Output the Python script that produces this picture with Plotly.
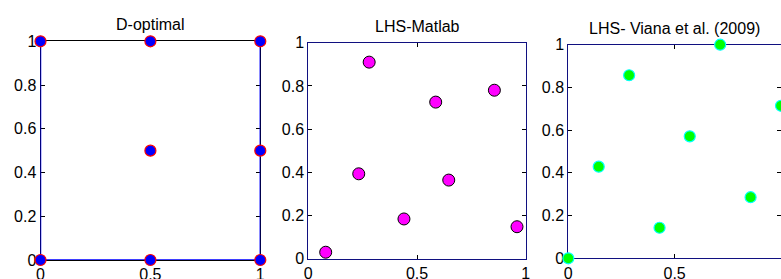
import plotly.graph_objects as go

# ---- data ----
titles = ["D-optimal", "LHS-Matlab", "LHS- Viana et al. (2009)"]

dopt_x = [0, 0.5, 1, 0, 0.5, 1, 0.5, 1]
dopt_y = [0, 0, 0, 1, 1, 1, 0.5, 0.5]
# order in which the blue line passes through the D-optimal points
dopt_path = [3, 0, 1, 2, 7, 5]

lhs_x = [0.08, 0.28, 0.232, 0.44, 0.586, 0.646, 0.856, 0.96]
lhs_y = [0.03, 0.91, 0.393, 0.184, 0.725, 0.364, 0.78, 0.148]

viana_x = [0, 0.143, 0.286, 0.429, 0.571, 0.714, 0.857, 1]
viana_y = [0, 0.429, 0.857, 0.143, 0.571, 1, 0.286, 0.714]

x_ticks = [0, 0.5, 1]
x_tick_text = ["0", "0.5", "1"]
y_ticks = [0, 0.2, 0.4, 0.6, 0.8, 1]
y_tick_text = ["0", "0.2", "0.4", "0.6", "0.8", "1"]

# ---- layout geometry (pixels) ----
W, H = 781, 279
panels = [  # left, right, top, bottom
    (40.5, 260.3, 41.3, 260.0),
    (308.3, 525.7, 42.7, 258.7),
    (568.3, 781.0, 44.7, 258.3),
]
frame_colors = ["#000000", "#101080", "#101080"]

FONT = "Liberation Sans, Arial, sans-serif"

fig = go.Figure()

# panel 1
fig.add_trace(go.Scatter(
    x=[dopt_x[i] for i in dopt_path], y=[dopt_y[i] for i in dopt_path],
    mode="lines", line=dict(color="#0000ff", width=1.5),
    xaxis="x", yaxis="y", cliponaxis=False, hoverinfo="skip"))
fig.add_trace(go.Scatter(
    x=dopt_x, y=dopt_y, mode="markers",
    marker=dict(size=11, color="#0000ff", line=dict(color="#ff0000", width=1.2)),
    xaxis="x", yaxis="y", cliponaxis=False))

# panel 2
fig.add_trace(go.Scatter(
    x=lhs_x, y=lhs_y, mode="markers",
    marker=dict(size=12, color="#ff00ff", line=dict(color="#000000", width=1)),
    xaxis="x2", yaxis="y2", cliponaxis=False))

# panel 3
fig.add_trace(go.Scatter(
    x=viana_x, y=viana_y, mode="markers",
    marker=dict(size=11, color="#00ff00", line=dict(color="#00ffff", width=1.2)),
    xaxis="x3", yaxis="y3", cliponaxis=False))

layout = dict(
    width=W, height=H,
    margin=dict(l=0, r=0, t=0, b=0, autoexpand=False),
    paper_bgcolor="white", plot_bgcolor="white",
    showlegend=False,
    font=dict(family=FONT, color="#000000", size=16),
    annotations=[],
)

for i, (l, r, t, b) in enumerate(panels):
    sfx = "" if i == 0 else str(i + 1)
    xd = [l / W, r / W]
    yd = [(H - b) / H, (H - t) / H]
    common = dict(
        showgrid=False, zeroline=False, automargin=False,
        showline=True, linecolor=frame_colors[i], linewidth=1,
        mirror="allticks", ticks="inside", ticklen=4, tickcolor="#000000",
        tickfont=dict(family=FONT, size=16, color="#000000"),
        layer="below traces", fixedrange=True,
    )
    layout["xaxis" + sfx] = dict(
        domain=xd, range=[0, 1], tickvals=x_ticks, ticktext=x_tick_text,
        anchor="y" + sfx, **common)
    layout["yaxis" + sfx] = dict(
        domain=yd, range=[0, 1], tickvals=y_ticks, ticktext=y_tick_text,
        anchor="x" + sfx, **common)
    layout["annotations"].append(dict(
        text=titles[i], xref="paper", yref="paper",
        x=(l + r) / 2 / W if i < 2 else (l + 780.3) / 2 / W,
        y=(H - t) / H, yshift=6,
        xanchor="center", yanchor="bottom", showarrow=False,
        font=dict(family=FONT, size=16, color="#000000")))

fig.update_layout(**layout)
fig.write_html(
    "out.html",
    config={"displayModeBar": False, "staticPlot": True},
    post_script="document.body.style.margin='0';document.body.style.overflow='hidden';",
)
